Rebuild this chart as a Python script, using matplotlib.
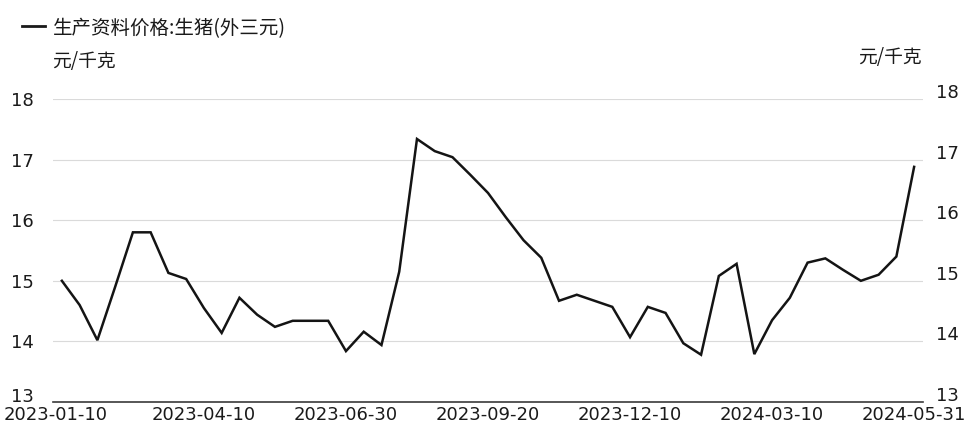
import matplotlib.pyplot as plt
from matplotlib.lines import Line2D
from matplotlib.transforms import ScaledTranslation

plt.rcParams['font.family'] = ['Noto Sans CJK SC', 'DejaVu Sans']

# 旬度数据（春节期间缺两期）
dates = ['2023-01-10', '2023-01-20', '2023-02-10', '2023-02-20', '2023-02-28',
         '2023-03-10', '2023-03-20', '2023-03-31', '2023-04-10', '2023-04-20',
         '2023-04-30', '2023-05-10', '2023-05-20', '2023-05-31', '2023-06-10',
         '2023-06-20', '2023-06-30', '2023-07-10', '2023-07-20', '2023-07-31',
         '2023-08-10', '2023-08-20', '2023-08-31', '2023-09-10', '2023-09-20',
         '2023-09-30', '2023-10-10', '2023-10-20', '2023-10-31', '2023-11-10',
         '2023-11-20', '2023-11-30', '2023-12-10', '2023-12-20', '2023-12-31',
         '2024-01-10', '2024-01-20', '2024-01-31', '2024-02-20', '2024-02-29',
         '2024-03-10', '2024-03-20', '2024-03-31', '2024-04-10', '2024-04-20',
         '2024-04-30', '2024-05-10', '2024-05-20', '2024-05-31']

price = [15.00, 14.60, 14.02, 14.90, 15.80, 15.80, 15.13, 15.03, 14.55, 14.14,
         14.72, 14.44, 14.24, 14.34, 14.34, 14.34, 13.84, 14.16, 13.94, 15.15,
         17.34, 17.14, 17.04, 16.75, 16.45, 16.05, 15.67, 15.38, 14.67, 14.77,
         14.67, 14.57, 14.07, 14.57, 14.47, 13.97, 13.78, 15.08, 15.28, 13.79,
         14.35, 14.72, 15.30, 15.37, 15.18, 15.00, 15.10, 15.40, 16.88]

tick_idx = [0, 8, 16, 24, 32, 40, 48]
yticks = [13, 14, 15, 16, 17, 18]

W, H = 970, 428
fig = plt.figure(figsize=(W / 100, H / 100), dpi=100)
ax = fig.add_axes([53 / W, 26 / H, 870 / W, 303 / H])

x = range(len(dates))
ax.plot(x, price, color='#141414', lw=1.8, solid_joinstyle='miter')

ax.set_xlim(-0.5, len(dates) - 0.5)
ax.set_ylim(13, 18)
ax.set_yticks(yticks)
ax.set_xticks(tick_idx)
ax.set_xticklabels([dates[i] for i in tick_idx])
ax.grid(axis='y', color='#dadada', lw=0.8)
ax.set_axisbelow(True)
for s in ['top', 'left', 'right']:
    ax.spines[s].set_visible(False)
ax.spines['bottom'].set_color('#3a3a3a')
ax.spines['bottom'].set_linewidth(1.2)
ax.tick_params(axis='both', length=0, labelsize=13, colors='#1a1a1a')
ax.tick_params(axis='y', pad=14)
ax.tick_params(axis='x', pad=3)
for lbl in ax.get_xticklabels() + ax.get_yticklabels():
    lbl.set_family('DejaVu Sans')

# 最下面的 13 上移，首个日期稍微左移，避免两者相压
lab13 = ax.yaxis.get_major_ticks()[0].label1
lab13.set_transform(lab13.get_transform()
                    + ScaledTranslation(0, 7 / 100, fig.dpi_scale_trans))
lab0 = ax.xaxis.get_major_ticks()[0].label1
lab0.set_transform(lab0.get_transform()
                   + ScaledTranslation(-6 / 100, 0, fig.dpi_scale_trans))

# 右轴刻度，位置略微上移
ax2 = fig.add_axes([53 / W, 34 / H, 870 / W, 303 / H])
ax2.patch.set_visible(False)
ax2.set_ylim(13, 18)
ax2.set_yticks(yticks)
ax2.set_xticks([])
ax2.yaxis.tick_right()
for s in ax2.spines.values():
    s.set_visible(False)
ax2.tick_params(axis='y', length=0, labelsize=13, pad=9, colors='#1a1a1a')
for lbl in ax2.get_yticklabels():
    lbl.set_family('DejaVu Sans')

# 图例
fig.add_artist(Line2D([22 / W, 45 / W], [1 - 26 / H, 1 - 26 / H],
                      color='#1a1a1a', lw=2, transform=fig.transFigure))
fig.text(53 / W, 1 - 29 / H, '生产资料价格:生猪(外三元)', fontsize=14,
         va='center', ha='left', color='#1a1a1a')

# 单位
fig.text(52 / W, 1 - 62 / H, '元/千克', fontsize=13.5, va='center', ha='left',
         color='#1a1a1a')
fig.text(922 / W, 1 - 58 / H, '元/千克', fontsize=13.5, va='center', ha='right',
         color='#1a1a1a')

fig.savefig('out.png', dpi=100, facecolor='white')
